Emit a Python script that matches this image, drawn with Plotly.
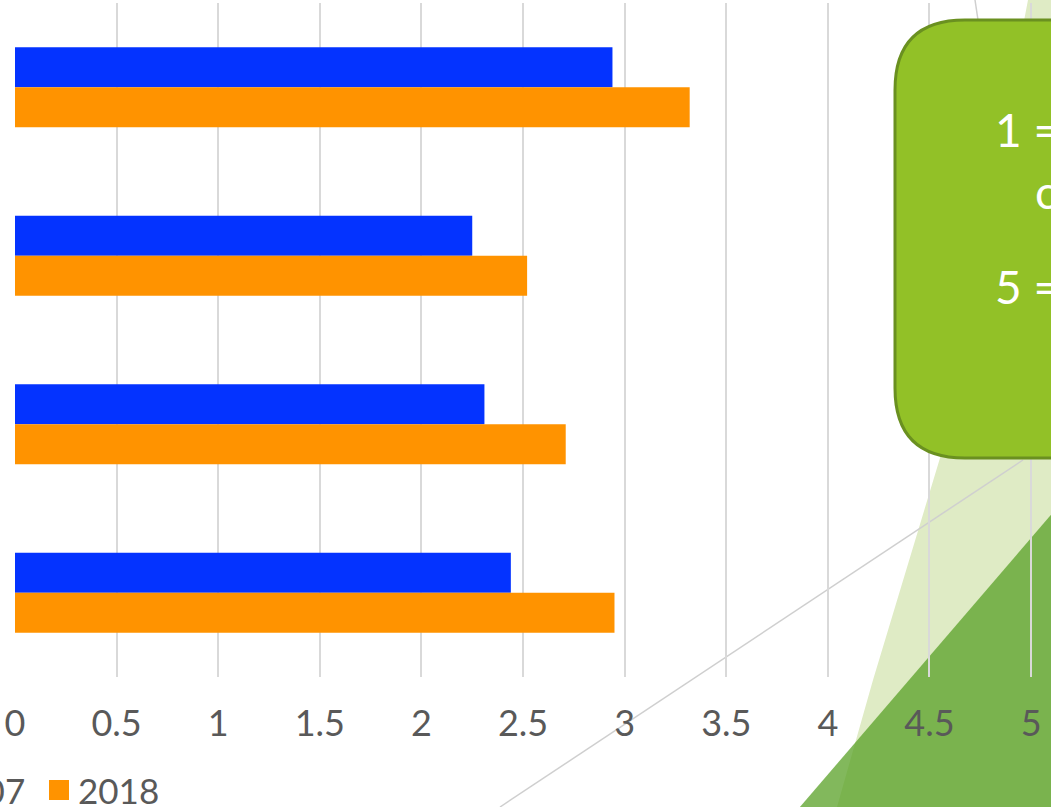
import plotly.graph_objects as go

# Figure geometry (pixels)
W, H = 1051, 807
ML, MR, MT, MB = 15, 0, 3, 130

# Data
items = ["Item 1", "Item 2", "Item 3", "Item 4"]
years = ["2007", "2018"]
score_2007 = [2.94, 2.25, 2.31, 2.44]
score_2018 = [3.32, 2.52, 2.71, 2.95]
x_ticks = [0, 0.5, 1, 1.5, 2, 2.5, 3, 3.5, 4, 4.5, 5]
x_max = 5.098

# Colours
BLUE = "#0433FF"
ORANGE = "#FF9300"
GRID = "#D9D9D9"
LABEL = "#595959"
FONT = "Lato, 'Open Sans', sans-serif"


def px(x):
    """pixel x -> paper x"""
    return (x - ML) / (W - ML - MR)


def py(y):
    """pixel y (from top) -> paper y"""
    return (H - MB - y) / (H - MT - MB)


def poly(points):
    pts = [f"{px(x):.5f},{py(y):.5f}" for x, y in points]
    return "M" + " L".join(pts) + " Z"


fig = go.Figure()
fig.add_trace(go.Bar(orientation="h", y=items, x=score_2007, name=years[0],
                     marker=dict(color=BLUE, line=dict(width=0)), showlegend=False))
fig.add_trace(go.Bar(orientation="h", y=items, x=score_2018, name=years[1],
                     marker=dict(color=ORANGE, line=dict(width=0)), showlegend=False))

shapes = []
# pale green background facet
shapes.append(dict(type="path", xref="paper", yref="paper", layer="below",
                   path=poly([(1028, 0), (1300, 0), (1300, 900), (810, 900),
                              (837, 807), (873, 680), (940, 458)]),
                   fillcolor="#DFEBC5", line=dict(width=0)))
# darker green facet
shapes.append(dict(type="path", xref="paper", yref="paper", layer="below",
                   path=poly([(1051 + 60, 445), (1300, 445), (1300, 900), (720, 900)]),
                   fillcolor="rgba(88,160,37,0.75)", line=dict(width=0)))
# connector lines
shapes.append(dict(type="line", xref="paper", yref="paper", layer="below",
                   x0=px(500), y0=py(807), x1=px(1023), y1=py(460),
                   line=dict(color="#CFCFCF", width=1.5)))
shapes.append(dict(type="line", xref="paper", yref="paper", layer="below",
                   x0=px(975), y0=py(0), x1=px(978), y1=py(20),
                   line=dict(color="#CFCFCF", width=1.5)))

# rounded callout box
bx0, by0, bx1, by1, r = 895, 20, 1300, 458, 70
box_path = (
    f"M{px(bx0 + r):.5f},{py(by0):.5f} L{px(bx1):.5f},{py(by0):.5f} "
    f"L{px(bx1):.5f},{py(by1):.5f} L{px(bx0 + r):.5f},{py(by1):.5f} "
    f"Q{px(bx0):.5f},{py(by1):.5f} {px(bx0):.5f},{py(by1 - r):.5f} "
    f"L{px(bx0):.5f},{py(by0 + r):.5f} "
    f"Q{px(bx0):.5f},{py(by0):.5f} {px(bx0 + r):.5f},{py(by0):.5f} Z"
)
shapes.append(dict(type="path", xref="paper", yref="paper", layer="above",
                   path=box_path, fillcolor="#92C127",
                   line=dict(color="#6A9020", width=3)))

# legend swatches
for x0, col in [(-90, BLUE), (49, ORANGE)]:
    shapes.append(dict(type="rect", xref="paper", yref="paper", layer="above",
                       x0=px(x0), x1=px(x0 + 20), y0=py(800), y1=py(780),
                       fillcolor=col, line=dict(width=0)))

annotations = [
    dict(text=years[0], x=px(27), y=py(790), xanchor="right", yanchor="middle"),
    dict(text=years[1], x=px(76), y=py(790), xanchor="left", yanchor="middle"),
]
for a in annotations:
    a.update(xref="paper", yref="paper", showarrow=False,
             font=dict(family=FONT, size=35, color=LABEL))

callout = [
    ("1 = not at all", 993, 129),
    ("concerned", 1033, 192),
    ("5 = very concerned", 993, 286),
]
for txt, x, y in callout:
    annotations.append(dict(text=txt, x=px(x), y=py(y), xref="paper", yref="paper",
                            xanchor="left", yanchor="middle", showarrow=False,
                            font=dict(family=FONT, size=46, color="white")))

fig.update_layout(
    width=W, height=H,
    margin=dict(l=ML, r=MR, t=MT, b=MB, autoexpand=False),
    paper_bgcolor="white", plot_bgcolor="rgba(0,0,0,0)",
    barmode="group", bargap=0.525, bargroupgap=0,
    showlegend=False,
    shapes=shapes, annotations=annotations,
    xaxis=dict(range=[0, x_max], tickvals=x_ticks,
               ticktext=[f"{v:g}" for v in x_ticks],
               showgrid=True, gridcolor=GRID, gridwidth=1.5,
               zeroline=False, showline=False, ticks="",
               ticklabelstandoff=22,
               tickfont=dict(family=FONT, size=36, color=LABEL)),
    yaxis=dict(type="category", autorange="reversed", showticklabels=False,
               showgrid=False, zeroline=False, showline=False, ticks=""),
)

fig.write_html("out.html")
